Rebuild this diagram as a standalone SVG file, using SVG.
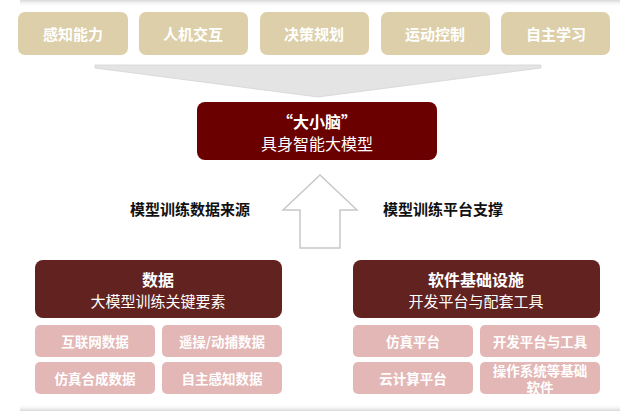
<svg xmlns="http://www.w3.org/2000/svg" width="640" height="418" viewBox="0 0 640 418">
<defs>
<style>
text{font-family:"Noto Sans CJK SC","Liberation Sans",sans-serif;text-anchor:middle;dominant-baseline:central}
.top rect{fill:#dccfa9}
.top text{fill:#fff;font-size:15px;font-weight:bold}
.hd rect{fill:#62221f}
.hd text{fill:#fff}
.sm rect{fill:#e3b7b5}
.sm text{fill:#fff;font-size:13.5px;font-weight:bold}
.lbl{font-size:15px;font-weight:bold;fill:#111}
</style>
<linearGradient id="sh" x1="0" y1="0" x2="0" y2="1"><stop offset="0" stop-color="#d8d8d8"/><stop offset="1" stop-color="#fff" stop-opacity="0"/></linearGradient>
<linearGradient id="sh2" x1="0" y1="1" x2="0" y2="0"><stop offset="0" stop-color="#d8d8d8"/><stop offset="1" stop-color="#fff" stop-opacity="0"/></linearGradient>
</defs>
<rect width="640" height="418" fill="#fff"/>
<rect x="20" y="0" width="600" height="7" fill="url(#sh)"/>
<rect x="20" y="404" width="600" height="7" fill="url(#sh2)"/>
<g id="n1" class="top"><rect x="18" y="12" width="110" height="43" rx="7"/><text x="73" y="33">感知能力</text></g>
<g id="n2" class="top"><rect x="139" y="12" width="109" height="43" rx="7"/><text x="193" y="33">人机交互</text></g>
<g id="n3" class="top"><rect x="260" y="12" width="109" height="43" rx="7"/><text x="314" y="33">决策规划</text></g>
<g id="n4" class="top"><rect x="381" y="12" width="109" height="43" rx="7"/><text x="435" y="33">运动控制</text></g>
<g id="n5" class="top"><rect x="501" y="12" width="109" height="43" rx="7"/><text x="556" y="33">自主学习</text></g>
<g id="connectors">
<polygon points="95,65 541,65 541,68 318,97 95,68" fill="#e4e4e4" stroke="#d4d4d4" stroke-width="0.8"/>
<polygon points="320,175 357,210 340,210 340,248 300,248 300,210 283,210" fill="#fff" stroke="#c8c8c8" stroke-width="1.5"/>
</g>
<g id="core"><rect x="197" y="102" width="240" height="58" rx="8" fill="#6a0000"/>
<text x="317" y="121" fill="#fff" font-size="16" font-weight="bold">“大小脑”</text>
<text x="317" y="143" fill="#fff" font-size="16">具身智能大模型</text></g>
<text class="lbl" x="190" y="208">模型训练数据来源</text>
<text class="lbl" x="443" y="208">模型训练平台支撑</text>
<g id="data" class="hd"><rect x="35" y="260" width="247" height="58" rx="8"/>
<text x="158" y="279" font-size="16" font-weight="bold">数据</text>
<text x="158" y="300" font-size="15">大模型训练关键要素</text></g>
<g id="soft" class="hd"><rect x="353" y="260" width="247" height="58" rx="8"/>
<text x="476" y="279" font-size="16" font-weight="bold">软件基础设施</text>
<text x="476" y="300" font-size="15">开发平台与配套工具</text></g>
<g id="d1" class="sm"><rect x="35" y="325" width="120" height="32" rx="5"/><text x="95" y="341">互联网数据</text></g>
<g id="d2" class="sm"><rect x="162" y="325" width="120" height="32" rx="5"/><text x="222" y="341">遥操/动捕数据</text></g>
<g id="d3" class="sm"><rect x="35" y="362" width="120" height="32" rx="5"/><text x="95" y="378">仿真合成数据</text></g>
<g id="d4" class="sm"><rect x="162" y="362" width="120" height="32" rx="5"/><text x="222" y="378">自主感知数据</text></g>
<g id="s1" class="sm"><rect x="353" y="325" width="120" height="32" rx="5"/><text x="413" y="341">仿真平台</text></g>
<g id="s2" class="sm"><rect x="480" y="325" width="120" height="32" rx="5"/><text x="540" y="341">开发平台与工具</text></g>
<g id="s3" class="sm"><rect x="353" y="362" width="120" height="32" rx="5"/><text x="413" y="378">云计算平台</text></g>
<g id="s4" class="sm"><rect x="480" y="362" width="120" height="32" rx="5"/><text x="540" y="370" font-size="12.5">操作系统等基础</text><text x="540" y="387" font-size="12.5">软件</text></g>
</svg>
